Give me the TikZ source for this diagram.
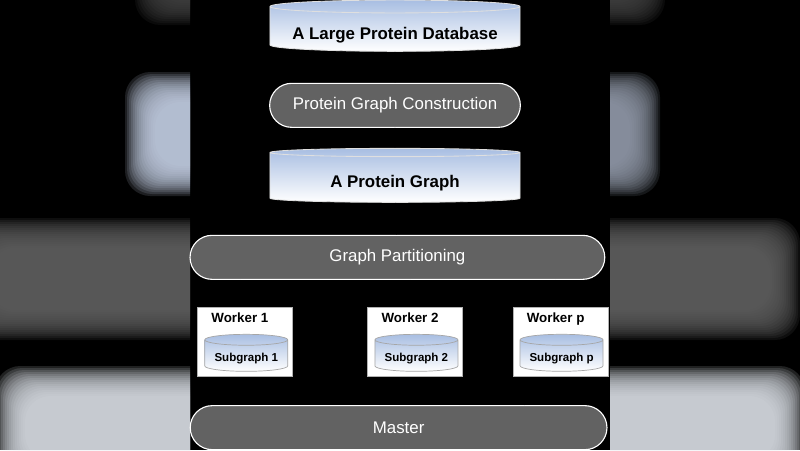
\documentclass[tikz,border=0pt]{standalone}
\usepackage{fontspec}
\setmainfont{Liberation Sans}
\usetikzlibrary{shapes,arrows,calc,positioning,backgrounds}

\definecolor{pillgray}{RGB}{98,98,98}
\definecolor{dbblue}{RGB}{168,190,226}
\definecolor{blurblue}{RGB}{196,208,228}
\definecolor{blurlight}{RGB}{218,222,228}

% soft box for the blurred side strips: colour, x1, y1, x2, y2
\newcommand{\blurbox}[5]{%
  \foreach \k in {0,...,15}
    \fill[#1, opacity=0.15, rounded corners=18pt]
      ($(#2,#3)+(\k*2,\k*2)$) rectangle ($(#4,#5)-(\k*2,\k*2)$);}

\begin{document}
\begin{tikzpicture}[x=0.025cm, y=-0.025cm,
db/.style={cylinder, shape border rotate=90, aspect=0.06, draw=gray!25, line width=0.6pt,
  top color=dbblue, bottom color=white, minimum width=6.25cm, minimum height=1.25cm,
  text height=15pt, text depth=2pt, font=\bfseries\fontsize{12}{14}\selectfont},
subdb/.style={cylinder, shape border rotate=90, aspect=0.15, draw=gray!70, line width=0.5pt,
  top color=dbblue, bottom color=white, minimum width=2.075cm, minimum height=0.925cm,
  text height=8.5pt, text depth=2pt, inner ysep=1pt, font=\bfseries\fontsize{8.2}{10}\selectfont},
pill/.style={rounded rectangle, draw=white, line width=0.8pt, fill=pillgray, text=white,
  minimum height=1.1cm, font=\fontsize{12}{14}\selectfont},
worker/.style={rectangle, draw=gray!60, line width=0.8pt, fill=white,
  minimum width=2.375cm, minimum height=1.725cm},
conn/.style={draw=black, line width=0.6pt, -latex}]

        \useasboundingbox (0,0) rectangle (800,450);
        \fill[black] (0,0) rectangle (800,450);

        % blurred strips left and right
        \begin{scope}
        \clip (0,0) rectangle (190,450) (610,0) rectangle (800,450);
        \blurbox{gray!55!black}{135}{-50}{665}{25}
        \blurbox{blurblue}{125}{72}{250}{196}
        \blurbox{blurblue!75!black}{560}{72}{660}{196}
        \blurbox{pillgray}{-40}{218}{800}{340}
        \blurbox{blurlight}{-5}{366}{805}{490}
        \end{scope}

        \node [db] (DB1) at (395,30) {A Large Protein Database};
        \node [pill, minimum width=6.5cm, below = 0.775cm of DB1] (PGC) {Protein Graph Construction};
        \node [db, minimum height=1.35cm, below = 0.5cm of PGC] (DB2) {A Protein Graph};
        \node [pill, minimum width=10.6cm, below = 0.8cm of DB2, xshift=0.06cm] (GP) {Graph Partitioning};

        \node [worker, below = 0.675cm of GP, xshift=0.45cm] (W2) {};
        \node [worker, left = 1.85cm of W2] (W1) {};
        \node [worker, right = 1.225cm of W2] (Wp) {};
        \node [pill, minimum width=10.65cm, below = 0.7cm of W2, xshift=-0.42cm] (M) {Master};

        \foreach \w/\n in {W1/1,W2/2,Wp/p} {
            \node [anchor=base west, inner sep=0pt, font=\bfseries\fontsize{9.5}{11}\selectfont]
                (\w-lab) at ($(\w.north west)+(14,16)$) {Worker \n};
            \node [subdb] (\w-db) at ($(\w.center)+(1,15)$) {Subgraph \n};
        }

        \draw[conn] (DB1) -- (PGC);
        \draw[conn] (PGC) -- (DB2);
        \draw[conn] (DB2) -- (GP);
        \foreach \w in {W1,W2,Wp} {
            \coordinate (\w-out) at ($(\w.south west)+(12,0)$);
            \coordinate (\w-in) at ($(\w.south east)-(4,0)$);
            \draw[conn] ($(GP.south -| \w.north)-(5,0)$) -- ($(\w.north)-(5,0)$);
            \draw[conn] (\w-out) -- (\w-out |- M.north);
            \draw[conn] (\w-in |- M.north) -- (\w-in);
        }
    \end{tikzpicture}
\end{document}
